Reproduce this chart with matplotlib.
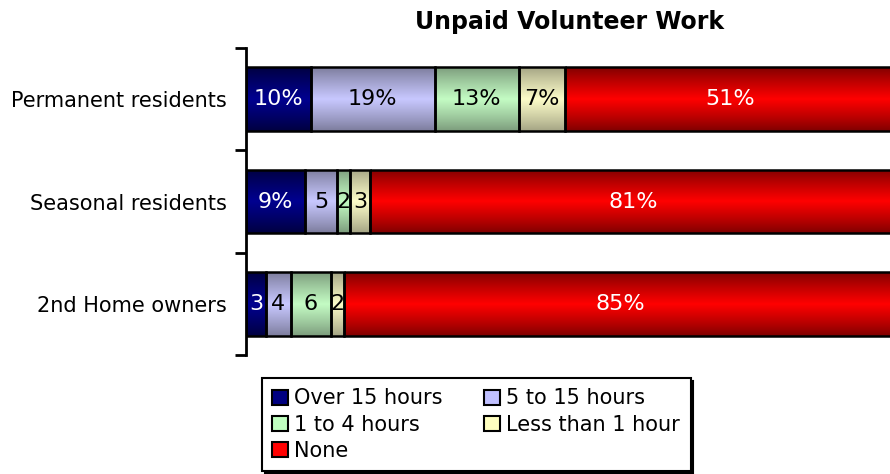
import numpy as np
import matplotlib
matplotlib.use('Agg')
import matplotlib.pyplot as plt
from matplotlib.patches import Patch
from matplotlib.colors import to_rgb

# data
groups = ["Permanent residents", "Seasonal residents", "2nd Home owners"]
series = ["Over 15 hours", "5 to 15 hours", "1 to 4 hours", "Less than 1 hour", "None"]
over15 = [10, 9.1, 3.1]
h5_15 = [19, 4.9, 3.8]
h1_4 = [13, 2, 6.2]
lt1 = [7, 3.1, 2]
none = [51, 81, 85]
labels = [
    ["10%", "9%", "3"],
    ["19%", "5", "4"],
    ["13%", "2", "6"],
    ["7%", "3", "2"],
    ["51%", "81%", "85%"],
]

# (middle colour, edge colour) for the vertical gradient
mid_cols = ["#000090", "#c8c8ff", "#c4fcc4", "#fcfcc8", "#ff0000"]
edge_cols = ["#000040", "#7c7c9c", "#7c9c7c", "#a4a484", "#800000"]
text_cols = ["white", "black", "black", "black", "white"]

fig = plt.figure(figsize=(8.9, 4.74), dpi=100)
ax = fig.add_axes([246/890, 119/474, 650/890, 307/474])

values = [over15, h5_15, h1_4, lt1, none]
y = np.arange(len(groups))
h = 0.62
left = np.zeros(len(groups))

t = np.linspace(0, 1, 64)
prof = (1 - np.abs(2*t - 1)) ** 0.9

for i, vals in enumerate(values):
    bars = ax.barh(y, vals, left=left, height=h, color="none",
                   edgecolor="black", linewidth=1.8, zorder=3)
    m = np.array(to_rgb(mid_cols[i]))
    e = np.array(to_rgb(edge_cols[i]))
    grad = e[None, :] + (m - e)[None, :] * prof[:, None]
    img = grad[:, None, :]
    for b, v, lab, l in zip(bars, vals, labels[i], left):
        x0, y0 = b.get_x(), b.get_y()
        im = ax.imshow(img, extent=[x0, x0 + v, y0 + h, y0], aspect="auto",
                       interpolation="bilinear", zorder=2)
        im.set_clip_path(b)
        ax.text(l + v/2, y0 + h/2, lab, ha="center", va="center",
                color=text_cols[i], fontsize=16, zorder=4)
    left = left + np.array(vals)

ax.set_xlim(0, 100)
ax.set_ylim(2.5, -0.5)
ax.set_yticks(y)
ax.set_yticklabels(groups, fontsize=15)
ax.tick_params(axis="y", which="major", length=0, pad=14)
ax.set_yticks([-0.5, 0.5, 1.5, 2.5], minor=True)
ax.tick_params(axis="y", which="minor", length=8, width=2, direction="out")
ax.set_xticks([])
for s in ["top", "right", "bottom"]:
    ax.spines[s].set_visible(False)
ax.spines["left"].set_linewidth(2)

fig.text(570/890, 1 - 22/474, "Unpaid Volunteer Work", ha="center", va="center",
         fontsize=17, fontweight="bold")

leg_cols = ["#000080", "#c0c0ff", "#c0ffc0", "#ffffc0", "#ff0000"]
handles = [Patch(facecolor=c, edgecolor="black", linewidth=1.5) for c in leg_cols]
# matplotlib fills legend columns first; reorder so rows read like the reference
order = [0, 2, 4, 1, 3]
leg = fig.legend([handles[k] for k in order], [series[k] for k in order],
                 ncol=2, loc="upper left",
                 bbox_to_anchor=(262/890, 1 - 378/474), fontsize=15,
                 frameon=True, fancybox=False, shadow={"color": "black", "alpha": 1},
                 handlelength=0.75, handleheight=0.75, handletextpad=0.3,
                 columnspacing=2.0, labelspacing=0.3, borderpad=0.5,
                 borderaxespad=0)
leg.get_frame().set_edgecolor("black")
leg.get_frame().set_linewidth(1.5)

fig.savefig("out.png", dpi=100)
